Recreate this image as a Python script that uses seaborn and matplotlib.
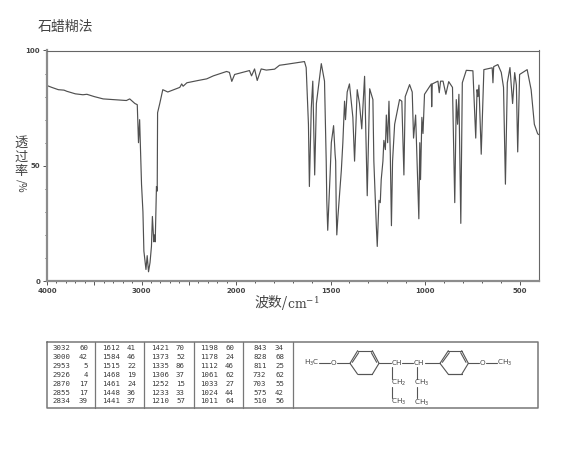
import numpy as np
import pandas as pd
import matplotlib
matplotlib.use("Agg")
import matplotlib.pyplot as plt
import seaborn as sns

title_text = "石蜡糊法"
xlabel_zh = "波数/"
xlabel_unit = "cm$^{-1}$"
x_tick_values = [4000, 3000, 2000, 1500, 1000, 500]
y_tick_values = [0, 50, 100]

wavenumber = [4000, 3950, 3880, 3820, 3790, 3700, 3620, 3578, 3500, 3406, 3300, 3160, 3125, 3070, 3045,
              3032, 3020, 3000, 2985, 2975, 2953, 2940, 2926, 2910, 2895, 2885, 2870, 2862, 2855, 2842, 2834,
              2830, 2807, 2775, 2722, 2595, 2575, 2560, 2520, 2400, 2310, 2240, 2100, 2070, 2045, 2015,
              1929, 1918, 1902, 1888, 1867, 1840, 1796, 1770, 1743, 1638, 1629, 1617, 1612, 1602, 1594,
              1584, 1575, 1549, 1532, 1523, 1520, 1515, 1502, 1496, 1484, 1476, 1473, 1470, 1467, 1461, 1452,
              1443, 1435, 1426, 1421,
              1412, 1400, 1382, 1373, 1359, 1347, 1335, 1320, 1306, 1293, 1276, 1271, 1263, 1258, 1253, 1244,
              1237, 1232, 1223, 1218, 1210, 1205, 1198, 1191, 1184, 1178, 1172, 1161, 1135, 1123, 1112, 1105,
              1082, 1068, 1061, 1050, 1033, 1028,
              1024, 1017, 1011, 1003, 967, 965, 962, 932, 925, 918, 905, 890, 875, 855, 843, 835, 828, 821,
              811, 803, 782, 747, 732, 725, 720, 715, 703, 689, 645, 641, 637, 615, 597, 585, 575, 565, 551,
              537, 526, 517, 510, 500, 460, 439, 422, 405, 400]
transmittance = [84.8, 84, 83, 82.8, 82.3, 81.2, 80.8, 81, 80, 79, 78.7, 78.3, 79, 77, 76.5,
                 60, 70, 42, 30, 13, 5, 11, 4, 8, 15, 28, 17, 20, 17, 41, 39,
                 73, 77, 83, 82, 84, 85.5, 84.5, 86, 87, 87.7, 89, 90.9, 90.5, 86.6, 89.6,
                 91.3, 89, 92, 87, 92, 91.5, 91.9, 93.6, 93.9, 95.2, 92.6, 68, 41, 75, 86.7,
                 46, 77, 94.3, 86.7, 52, 35, 22, 47, 60, 67.4, 55, 52, 31, 20, 28, 38,
                 48, 60, 78, 70,
                 82, 85.5, 71, 52, 83, 77, 66, 88.8, 37, 83.4, 78.7, 52, 34, 24, 15, 35,
                 34, 44, 52, 61, 57, 72, 60, 78, 55, 24, 52, 68, 78.7, 78, 46, 80,
                 85.2, 82, 62, 72, 27, 60,
                 44, 71, 64, 81, 85.5, 75.6, 85.5, 86.7, 81.7, 86.7, 86.7, 81, 86.5, 84, 34, 78.7, 68, 81,
                 25, 86, 91.4, 91.2, 62, 83, 80, 85, 55, 91.7, 92.5, 86, 93, 93.9, 90.5, 84, 42, 86, 92.6,
                 77, 90.4, 85, 56, 89.6, 91.7, 83, 68, 64, 63.5]

table_wavenumbers = [[3032, 3000, 2953, 2926, 2870, 2855, 2834],
                     [1612, 1584, 1515, 1468, 1461, 1448, 1441],
                     [1421, 1373, 1335, 1306, 1252, 1233, 1210],
                     [1198, 1178, 1112, 1061, 1033, 1024, 1011],
                     [843, 828, 811, 732, 703, 575, 510]]
table_values = [[60, 42, 5, 4, 17, 17, 39],
                [41, 46, 22, 19, 24, 36, 37],
                [70, 52, 86, 37, 15, 33, 57],
                [60, 24, 46, 62, 27, 44, 64],
                [34, 68, 25, 62, 55, 42, 56]]

sns.set_style("white")
plt.rcParams["font.family"] = ["Noto Sans CJK SC", "DejaVu Sans"]
plt.rcParams["mathtext.default"] = "regular"

W, H = 570, 468
fig = plt.figure(figsize=(W / 100, H / 100), dpi=100)
ax = fig.add_axes([47 / W, 1 - 281 / H, (538.5 - 47) / W, (281 - 50.5) / H])

def fwd(w):
    return np.interp(w, [0, 400, 2000, 4000], [-800, 0, 3200, 5200])
def inv(p):
    return np.interp(p, [-800, 0, 3200, 5200], [0, 400, 2000, 4000])

ax.set_xscale("function", functions=(fwd, inv))
df = pd.DataFrame({"w": wavenumber, "t": transmittance})
sns.lineplot(data=df, x="w", y="t", ax=ax, sort=False, estimator=None, color="#505050", lw=0.85)
ax.set_xlim(4000, 400)
ax.set_ylim(0, 100)
ax.set_xlabel("")
ax.set_ylabel("")
ax.set_xticks(list(range(4000, 400, -500)))
ax.set_xticklabels([str(v) if v in x_tick_values else "" for v in range(4000, 400, -500)],
                   fontsize=5, family="DejaVu Sans", fontweight="bold", color="#444444")
ax.set_xticks(list(range(3900, 400, -100)), minor=True)
ax.set_yticks(y_tick_values)
ax.set_yticklabels([str(v) for v in y_tick_values], fontsize=5, family="DejaVu Sans",
                   fontweight="bold", color="#444444")
ax.set_yticks(list(range(10, 100, 10)), minor=True)
ax.tick_params(axis="both", which="major", length=3, width=0.7, color="#555555", pad=2,
               bottom=True, left=True)
ax.tick_params(axis="both", which="minor", length=1.5, width=0.7, color="#555555",
               bottom=True, left=True)
for s in ("left", "bottom"):
    ax.spines[s].set_linewidth(1.6)
    ax.spines[s].set_color("#8c8c8c")
for s in ("top", "right"):
    ax.spines[s].set_linewidth(0.8)
    ax.spines[s].set_color("#666666")

ov = fig.add_axes([0, 0, 1, 1], facecolor="none")
ov.set_xlim(0, W)
ov.set_ylim(H, 0)
ov.axis("off")

ov.text(38, 27, title_text, fontsize=10, va="center", ha="left", color="#444444")
for ch, yy in zip("透过率", [143, 157, 171]):
    ov.text(21, yy, ch, fontsize=9.5, va="center", ha="center", color="#444444")
ov.text(21, 186, "/%", fontsize=7.5, rotation=-90, va="center", ha="center", color="#444444")
ov.text(254.5, 303, xlabel_zh, fontsize=10, va="center", ha="left", color="#444444")
ov.text(287, 304, xlabel_unit, fontsize=9, family="DejaVu Serif", math_fontfamily="dejavuserif",
        va="center", ha="left", color="#444444")

# peak table
x0, x1, top, bot = 46.5, 538, 341.5, 407.5
dividers = [95, 144, 194, 243, 293]
ov.plot([x0, x1, x1, x0, x0], [top, top, bot, bot, top], color="#777777", lw=1.1)
for d in dividers:
    ov.plot([d, d], [top, bot], color="#777777", lw=0.9)
col_left = [52.5, 102, 151, 200, 253]
col_right = [88, 136, 185, 234, 284]
for wv, vv, cl, cr in zip(table_wavenumbers, table_values, col_left, col_right):
    for i, (a, b) in enumerate(zip(wv, vv)):
        yy = 348.3 + i * 8.85
        ov.text(cl, yy, str(a), fontsize=5.3, family="DejaVu Sans Mono", va="center", ha="left", color="#3a3a3a")
        ov.text(cr, yy, str(b), fontsize=5.3, family="DejaVu Sans Mono", va="center", ha="right", color="#3a3a3a")

# structure
def P(zx, zy):
    return 285 + zx / 3, 335 + zy / 3
def seg(a, b, lw=0.8):
    pa, pb = P(*a), P(*b)
    ov.plot([pa[0], pb[0]], [pa[1], pb[1]], color="#555555", lw=lw)
def lab(zx, zy, s, ha="center"):
    p = P(zx, zy)
    ov.text(p[0], p[1], s, fontsize=5.2, family="DejaVu Sans", va="center", ha=ha, color="#444444")

def ring(l, tl, tr, r, yt, ym, yb):
    pts = [(l, ym), (tl, yt), (tr, yt), (r, ym), (tr, yb), (tl, yb), (l, ym)]
    for a, b in zip(pts[:-1], pts[1:]):
        seg(a, b)
    seg((l + 7, ym - 3), (tl + 3, yt + 6), 0.8)
    seg((r - 7, ym - 3), (tr - 3, yt + 6), 0.8)
    seg((tl, yb - 2), (tr, yb - 2), 0.8)

ring(195, 218, 262, 282, 47, 85, 118)
ring(465, 490, 530, 550, 47, 85, 118)
seg((102, 85), (135, 85)); seg((155, 85), (195, 85)); seg((282, 85), (318, 85))
seg((352, 85), (385, 85)); seg((420, 85), (465, 85)); seg((550, 85), (583, 85)); seg((602, 85), (635, 85))
for xv, top_y in [(320, 95), (395, 95)]:
    seg((xv, top_y), (xv, 132)); seg((xv, 155), (xv, 190))
lab(80, 85, "H$_3$C")
lab(145, 85, "O")
lab(335, 85, "CH")
lab(403, 85, "CH")
lab(592, 85, "O")
lab(660, 85, "CH$_3$")
lab(340, 145, "CH$_2$")
lab(340, 200, "CH$_3$")
lab(410, 145, "CH$_3$")
lab(410, 203, "CH$_3$")

fig.savefig("out.png", dpi=100, facecolor="white")
